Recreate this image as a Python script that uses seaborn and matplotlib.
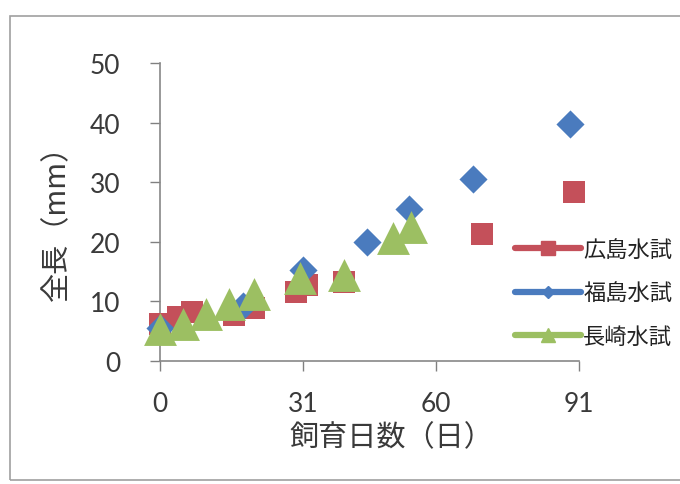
import matplotlib
matplotlib.use("Agg")
import matplotlib.pyplot as plt
from matplotlib import font_manager
from matplotlib.lines import Line2D
from matplotlib.patches import Rectangle
import seaborn as sns
import pandas as pd

# ---- data ----
series_names = ["広島水試", "福島水試", "長崎水試"]

hiroshima_days = [0, 4, 7, 16, 20.5, 29.5, 32, 40, 70, 90]
hiroshima_len = [6.2, 7.4, 8.2, 7.7, 8.9, 11.6, 12.7, 13.2, 21.3, 28.3]

fukushima_days = [0, 18, 31, 45, 54, 68, 89]
fukushima_len = [5.5, 9.2, 15.3, 20.0, 25.5, 30.5, 39.8]

nagasaki_days = [0, 5, 10, 15, 20.5, 30.5, 40, 50.5, 54.5]
nagasaki_len = [5.4, 6.2, 7.9, 9.6, 11.2, 13.9, 14.4, 20.6, 22.5]

x_ticks = [0, 31, 60, 91]
y_ticks = [0, 10, 20, 30, 40, 50]
x_label = "飼育日数（日）"
y_label = "全長（mm）"

# ---- styling ----
sns.set_style("white")
plt.rcParams["font.family"] = ["Noto Sans CJK JP", "DejaVu Sans"]
names = {f.name for f in font_manager.fontManager.ttflist}
tick_font = "Lato" if "Lato" in names else "DejaVu Sans"

colors = {"広島水試": "#C4505A", "福島水試": "#4A7BBE", "長崎水試": "#9CBF62"}
markers = {"広島水試": "s", "福島水試": "D", "長崎水試": "^"}
sizes = {"広島水試": 250, "福島水試": 205, "長崎水試": 560}

df = pd.concat([
    pd.DataFrame({"day": hiroshima_days, "len": hiroshima_len, "site": "広島水試"}),
    pd.DataFrame({"day": fukushima_days, "len": fukushima_len, "site": "福島水試"}),
    pd.DataFrame({"day": nagasaki_days, "len": nagasaki_len, "site": "長崎水試"}),
], ignore_index=True)

fig = plt.figure(figsize=(6.8, 4.85), dpi=100)
ax = fig.add_axes([160 / 680, (485 - 362) / 485, 419 / 680, 298 / 485])

for i, name in enumerate(series_names):
    sub = df[df["site"] == name]
    sns.scatterplot(data=sub, x="day", y="len", ax=ax, color=colors[name],
                    marker=markers[name], s=sizes[name], linewidth=0,
                    clip_on=False, zorder=3 + i, legend=False)

ax.set_xlim(0, 91)
ax.set_ylim(0, 50)
ax.set_xticks(x_ticks)
ax.set_yticks(y_ticks)
for lab in ax.get_xticklabels() + ax.get_yticklabels():
    lab.set_fontfamily(tick_font)
    lab.set_fontsize(19)
    lab.set_color("#3a3a3a")
ax.tick_params(axis="both", direction="out", length=7.5, width=1, color="#808080",
               left=True, bottom=True)
ax.tick_params(axis="y", pad=21)
ax.tick_params(axis="x", pad=14)

sns.despine(ax=ax)
for s in ["left", "bottom"]:
    ax.spines[s].set_color("#888888")
    ax.spines[s].set_linewidth(1.2)

ax.set_xlabel(x_label, fontsize=21, color="#3a3a3a", va="center")
ax.set_ylabel(y_label, fontsize=21, color="#3a3a3a", va="center")
ax.xaxis.set_label_coords(0.552, -0.255)
ax.yaxis.set_label_coords(-0.245, 0.49)

# legend: line with marker handles
legend_marker_sizes = {"広島水試": 9.5, "福島水試": 6, "長崎水試": 9.5}
handles = [Line2D([], [], color=colors[n], lw=4.5, marker=markers[n],
                  markersize=legend_marker_sizes[n], label=n) for n in series_names]
fig.legend(handles=handles, loc="upper left",
           bbox_to_anchor=(515 / 680, (485 - 239) / 485),
           frameon=False, fontsize=16, handlelength=2.95, handletextpad=0.12,
           labelspacing=0.92, borderpad=0, borderaxespad=0, labelcolor="#222222")

# chart-area frame (extends past the right edge, as in the reference)
fig.patches.append(Rectangle((10 / 680, 4 / 485), 1.2, 464 / 485,
                             transform=fig.transFigure, fill=False,
                             edgecolor="#a0a0a0", linewidth=1.2, zorder=0))

fig.savefig("out.png", dpi=100)
